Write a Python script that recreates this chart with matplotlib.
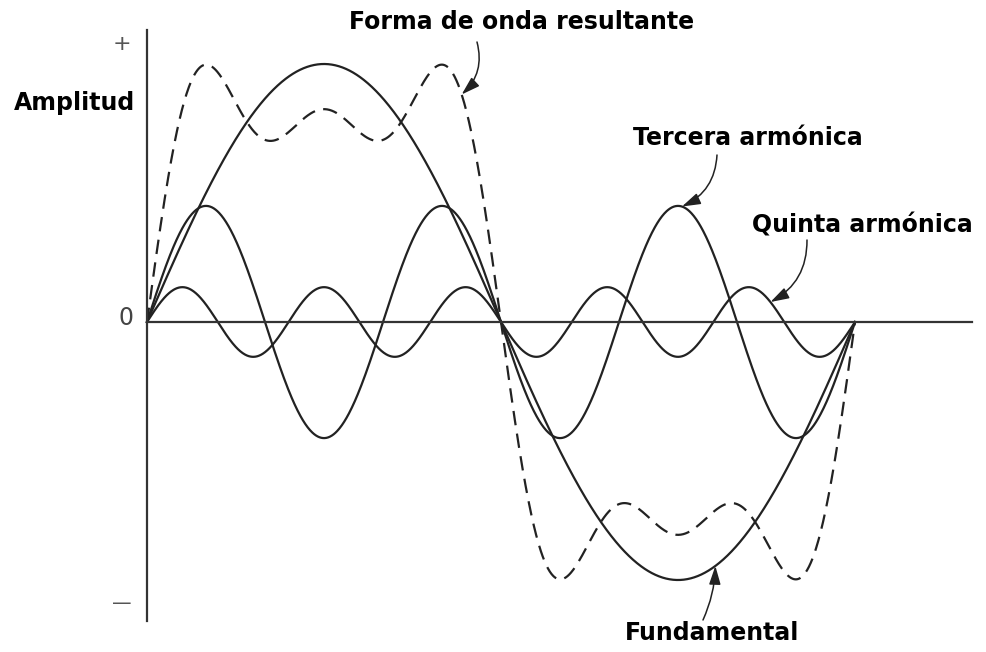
import matplotlib.pyplot as plt
import numpy as np

# componentes: orden del armónico y amplitud
armonicos = [1, 3, 5]
amplitud_componentes = [10.0, 4.5, 1.35]   # fundamental, tercera, quinta
amplitud_resultante = [10.15, 3.9, 2.0]    # coeficientes de la onda resultante (trazo discontinuo)

# escala del dibujo (pixeles por grado y por unidad de amplitud)
PX_GRADO = 708 / 360
PX_UNIDAD = 25.8
X0, Y0 = 147, 322


def px(x, y):
    # posicion en pixeles (origen arriba a la izquierda) -> datos
    return ((x - X0) / PX_GRADO, (Y0 - y) / PX_UNIDAD)


def onda(theta, amplitudes):
    r = np.radians(theta)
    return sum(a * np.sin(n * r) for n, a in zip(armonicos, amplitudes))


fig = plt.figure(figsize=(9.86, 6.52), dpi=100)
ax = fig.add_axes([0, 0, 1, 1])
ax.set_xlim(px(0, 0)[0], px(986, 0)[0])
ax.set_ylim(px(0, 652)[1], px(0, 0)[1])
ax.axis('off')

color = '#222222'
theta = np.linspace(0, 360, 1200)
for n, a in zip(armonicos, amplitud_componentes):
    ax.plot(theta, a * np.sin(n * np.radians(theta)), color=color, lw=1.6)
ax.plot(theta, onda(theta, amplitud_resultante), color=color, lw=1.6,
        ls=(0, (6.5, 3.8)))

# ejes
ax.plot([0, 0], [px(0, 30)[1], px(0, 621)[1]], color='#333333', lw=1.6)
ax.plot([0, px(972, 0)[0]], [0, 0], color='#333333', lw=1.6)

ax.text(*px(122, 44), '+', fontsize=16, color='#555555', ha='center', va='center')
ax.text(*px(126, 318), '0', fontsize=17, color='#444444', ha='center', va='center')
ax.text(*px(122, 603), '—', fontsize=14, color='#555555', ha='center', va='center')
ax.text(*px(75, 103), 'Amplitud', fontsize=17, fontweight='bold', ha='center', va='center')

flecha = dict(arrowstyle='-|>,head_length=0.8,head_width=0.25', color=color,
              lw=1.1, shrinkA=0, shrinkB=0, mutation_scale=14)

# etiquetas con flecha: texto, centro del texto, inicio de la flecha, punta (componente, grado)
etiquetas = [
    ('Forma de onda resultante', (522, 22), (477, 42), 'res', 160, -0.3),
    ('Tercera armónica', (748, 138), (717, 155), 3, 272, -0.3),
    ('Quinta armónica', (862, 225), (807, 240), 5, 317, -0.3),
    ('Fundamental', (712, 633), (703, 620), 1, 289, 0.1),
]
for texto, pos, ini, comp, grado, curva in etiquetas:
    if comp == 'res':
        y = onda(grado, amplitud_resultante)
    else:
        y = amplitud_componentes[armonicos.index(comp)] * np.sin(comp * np.radians(grado))
    ax.text(*px(*pos), texto, fontsize=17, fontweight='bold', ha='center', va='center')
    ax.annotate('', xy=(grado, y), xytext=px(*ini),
                arrowprops=dict(flecha, connectionstyle=f'arc3,rad={curva}'))

fig.savefig('out.png', dpi=100)
